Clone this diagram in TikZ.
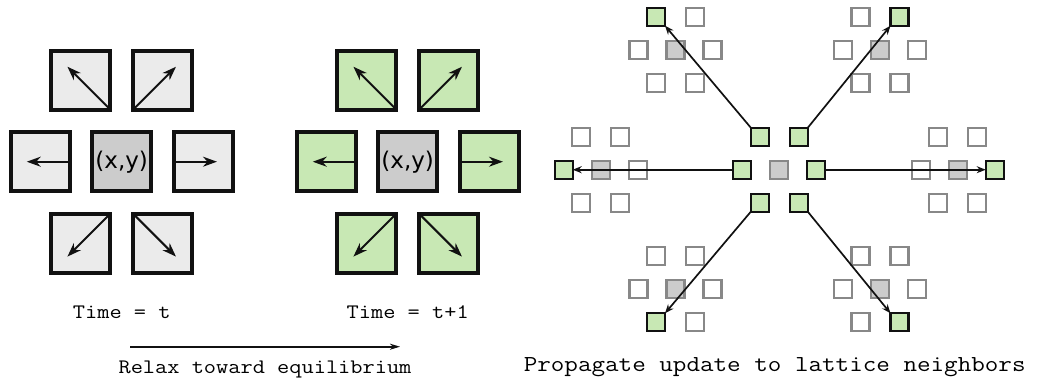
\documentclass[tikz,border=0pt]{standalone}
\usepackage{fontspec}
\newfontfamily\cellfont{DejaVu Sans}
\newfontfamily\capfont{Latin Modern Mono}[FakeStretch=1.15]
\usetikzlibrary{arrows.meta,calc}

\definecolor{cellpale}{HTML}{EBEBEB}
\definecolor{cellmid}{HTML}{CCCCCC}
\definecolor{leafgreen}{HTML}{C8E8B4}
\definecolor{ink}{HTML}{111111}
\definecolor{rimgray}{HTML}{888888}

\tikzset{
  big/.style={draw=ink, line width=4pt, minimum size=59pt, inner sep=0pt, outer sep=0pt},
  bigarrow/.style={draw=ink, line width=2pt, -{Stealth[length=14pt,width=10pt,inset=4.5pt]}},
  small/.style={line width=2.2pt, minimum size=18pt, inner sep=0pt, outer sep=0pt},
  cellwhite/.style={small, draw=rimgray, fill=white},
  cellcentre/.style={small, draw=rimgray, fill=cellmid},
  cellhot/.style={small, draw=ink, fill=leafgreen},
  pick/.code 2 args={\ifnum#1=#2\relax\tikzset{cellhot}\else\tikzset{cellwhite}\fi},
  hop/.style={draw=ink, line width=1.7pt, -{Stealth[length=9pt,width=7pt,inset=3pt]}},
  caption/.style={inner sep=0pt, anchor=base, font=\capfont\fontsize{20.6pt}{24pt}\selectfont},
}

% one hexagonal neighbourhood of the lattice: name, centre x, centre y, index of the lit cell
\newcommand\latcluster[4]{%
  \node[cellcentre] (#1-0) at (#2,#3) {};
  \foreach \k/\ox/\oy in {1/-19.5/-33, 2/19.5/-33, 3/-37/0, 4/37/0, 5/-19.5/33, 6/19.5/33}
    \node[pick={\k}{#4}] (#1-\k) at ({#2+\ox},{#3+\oy}) {};
}

% seven-cell neighbourhood with arrows: prefix, centre x, fill colour
\newcommand\bigcluster[3]{%
  \node[big, fill=cellmid, font=\cellfont\fontsize{23pt}{27pt}\selectfont] (#1c) at (#2,161.7) {(x,y)};
  \foreach \k/\ox/\oy in {1/-41/-81.7, 2/41/-81.7, 3/-81.7/0, 4/82/0, 5/-41/81.6, 6/41/81.6}
    \node[big, fill=#3] (#1\k) at ({#2+\ox},{161.7+\oy}) {};
  \draw[bigarrow] (#11.south east) -- ($(#11.south east)!1.45!(#11.center)$);
  \draw[bigarrow] (#12.south west) -- ($(#12.south west)!1.45!(#12.center)$);
  \draw[bigarrow] (#13.east) -- ($(#13.east)!1.45!(#13.center)$);
  \draw[bigarrow] (#14.west) -- ($(#14.west)!1.45!(#14.center)$);
  \draw[bigarrow] (#15.north east) -- ($(#15.north east)!1.45!(#15.center)$);
  \draw[bigarrow] (#16.north west) -- ($(#16.north west)!1.45!(#16.center)$);
}

\begin{document}
\begin{tikzpicture}[x=1pt,y=-1pt]
\useasboundingbox (0,0) rectangle (1041,381);

% distribution at time t and after relaxation
\bigcluster{a}{121.7}{cellpale}
\bigcluster{b}{407.7}{leafgreen}

\node[caption] (tnow) at (121.7,318.3) {Time = t};
\node[caption] (tnext) at (407.7,318.3) {Time = t+1};
\coordinate (relaxA) at (130,346.7);
\coordinate (relaxB) at (400,346.7);
\draw[draw=ink, line width=1.6pt, -{Stealth[length=10pt,width=6pt,inset=3pt]}] (relaxA) -- (relaxB);
\node[caption] (relax) at (265,373.3) {Relax toward equilibrium};

% streaming step on the lattice
\node[cellcentre] (m-0) at (779.3,169.7) {};
\foreach \k/\ox/\oy in {1/-19.5/-33, 2/19.5/-33, 3/-37/0, 4/37/0, 5/-19.5/33, 6/19.5/33}
  \node[cellhot] (m-\k) at ({779.3+\ox},{169.7+\oy}) {};

\latcluster{tl}{675.5}{49.7}{1}
\latcluster{tr}{880}{49.7}{2}
\latcluster{lf}{600.7}{169.7}{3}
\latcluster{rt}{957.7}{169.7}{4}
\latcluster{bl}{675.5}{289.3}{5}
\latcluster{br}{880}{289.3}{6}

\draw[hop] (m-1.north west) -- (tl-1.south east);
\draw[hop] (m-2.north east) -- (tr-2.south west);
\draw[hop] (m-3.west) -- (lf-3.east);
\draw[hop] (m-4.east) -- (rt-4.west);
\draw[hop] (m-5.south west) -- (bl-5.north east);
\draw[hop] (m-6.south east) -- (br-6.north west);

\node[caption, font=\capfont\fontsize{22.9pt}{27pt}\selectfont] (prop) at (774.7,371.7) {Propagate update to lattice neighbors};
\end{tikzpicture}
\end{document}
